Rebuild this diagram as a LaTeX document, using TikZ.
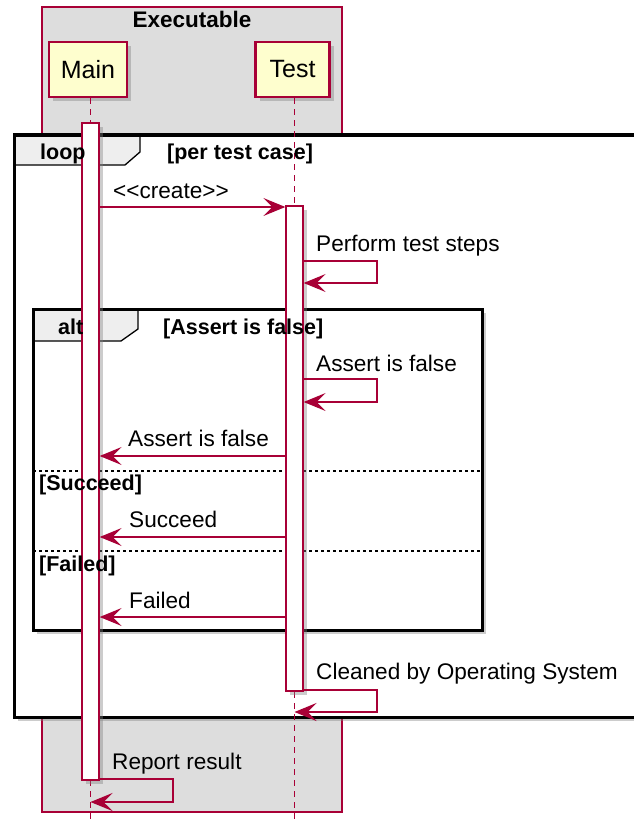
\documentclass[tikz,border=0pt]{standalone}
\usepackage{fontspec}
\setmainfont{Liberation Sans}
\usetikzlibrary{arrows.meta,shadows}
\definecolor{puRed}{HTML}{A80036}
\definecolor{puFill}{HTML}{FEFECE}
\definecolor{puGray}{HTML}{DDDDDD}
\definecolor{puTab}{HTML}{EEEEEE}
\tikzset{
  sh/.style={drop shadow={opacity=0.4,shadow xshift=4pt,shadow yshift=-4pt,fill=gray}},
  participant/.style={draw=puRed,fill=puFill,line width=2.2pt,sh,inner sep=0pt,
    minimum height=55pt,font=\fontsize{25}{29}\selectfont},
  act/.style={draw=puRed,fill=white,line width=1.3pt,sh,inner sep=0pt,minimum width=17pt},
  life/.style={draw=puRed,line width=1.3pt,dash pattern=on 6pt off 5pt},
  msg/.style={draw=puRed,line width=1.4pt,-{Stealth[length=22pt,width=18pt,inset=9pt]}},
  lbl/.style={anchor=base west,inner sep=0pt,font=\fontsize{22.6}{26}\selectfont},
  blbl/.style={anchor=base west,inner sep=0pt,font=\fontsize{21.5}{25}\selectfont\bfseries},
  frame/.style={draw=black,line width=3pt},
  tab/.style={draw=black,fill=puTab,line width=1.3pt},
  sep/.style={draw=black,line width=1.3pt,dash pattern=on 3pt off 3pt}
}
\begin{document}
\begin{tikzpicture}[x=1pt,y=-1pt]
\useasboundingbox (0,0) rectangle (633,824);
% Executable box
\draw[draw=puRed,fill=puGray,line width=1.3pt] (42,7) rectangle (342,812);
\node[anchor=base,inner sep=0pt,font=\fontsize{22.5}{26}\selectfont\bfseries] (exe) at (192,28) {Executable};
% participants
\node[participant,minimum width=78pt] (main) at (88,69.5) {Main};
\node[participant,minimum width=74pt] (test) at (292.5,69.5) {Test};
\coordinate (bot) at (0,824);
% loop frame
\draw[frame,fill=white,sh] (14,135) rectangle (642,717);
\draw[tab] (14,135) -- (140,135) -- (140,152) -- (125,165) -- (14,165) -- cycle;
\draw[frame] (14,135) rectangle (642,717);
% alt frame
\draw[frame,fill=white,sh] (33,309) rectangle (482,630);
\draw[tab] (33,309) -- (138,309) -- (138,329) -- (121,341) -- (33,341) -- cycle;
\draw[frame] (33,309) rectangle (482,630);
\draw[sep] (33,471) -- (482,471);
\draw[sep] (33,551) -- (482,551);
% lifelines
\coordinate (mainx) at (90.5,0);
\coordinate (testx) at (294.5,0);
\draw[life] (mainx |- main.south) -- (mainx |- bot);
\draw[life] (testx |- test.south) -- (testx |- bot);
% activations
\node[act,minimum height=657pt] (mainact) at (90.5,451.5) {};
\node[act,minimum height=485pt] (testact) at (294.5,448.5) {};
% frame labels (drawn over activations)
\node[blbl] (looplbl) at (40,159) {loop};
\node[blbl] (loopcond) at (167,159) {[per test case]};
\node[blbl] (altlbl) at (58,334) {alt};
\node[blbl] (altcond) at (163,334) {[Assert is false]};
\node[blbl] (succ) at (39,490) {[Succeed]};
\node[blbl] (fail) at (39,571) {[Failed]};
% y levels
\coordinate (yc) at (0,207);
\coordinate (yp1) at (0,261); \coordinate (yp2) at (0,283);
\coordinate (ya1) at (0,379); \coordinate (ya2) at (0,402);
\coordinate (yr) at (0,456);
\coordinate (ys) at (0,537);
\coordinate (yf) at (0,617);
\coordinate (ycl1) at (0,690); \coordinate (ycl2) at (0,712);
\coordinate (yrp1) at (0,779); \coordinate (yrp2) at (0,802);
% messages
\draw[msg] (mainact.east |- yc) -- (testact.west |- yc);
\node[lbl] (l1) at (113,198) {<\kern0pt<create>\kern0pt>};
\draw[msg] (testact.east |- yp1) -- (377,261) -- (377,283) -- (testact.east |- yp2);
\node[lbl] (l2) at (316,251) {Perform test steps};
\draw[msg] (testact.east |- ya1) -- (377,379) -- (377,402) -- (testact.east |- ya2);
\node[lbl] (l3) at (316,371) {Assert is false};
\draw[msg] (testact.west |- yr) -- (mainact.east |- yr);
\node[lbl] (l4) at (128,446) {Assert is false};
\draw[msg] (testact.west |- ys) -- (mainact.east |- ys);
\node[lbl] (l5) at (129,527) {Succeed};
\draw[msg] (testact.west |- yf) -- (mainact.east |- yf);
\node[lbl] (l6) at (129,608) {Failed};
\draw[msg] (testact.east |- ycl1) -- (377,690) -- (377,712) -- (testx |- ycl2);
\node[lbl] (l7) at (316,679) {Cleaned by Operating System};
\draw[msg] (mainact.east |- yrp1) -- (173,779) -- (173,802) -- (mainx |- yrp2);
\node[lbl] (l8) at (112,769) {Report result};
\end{tikzpicture}
\end{document}
